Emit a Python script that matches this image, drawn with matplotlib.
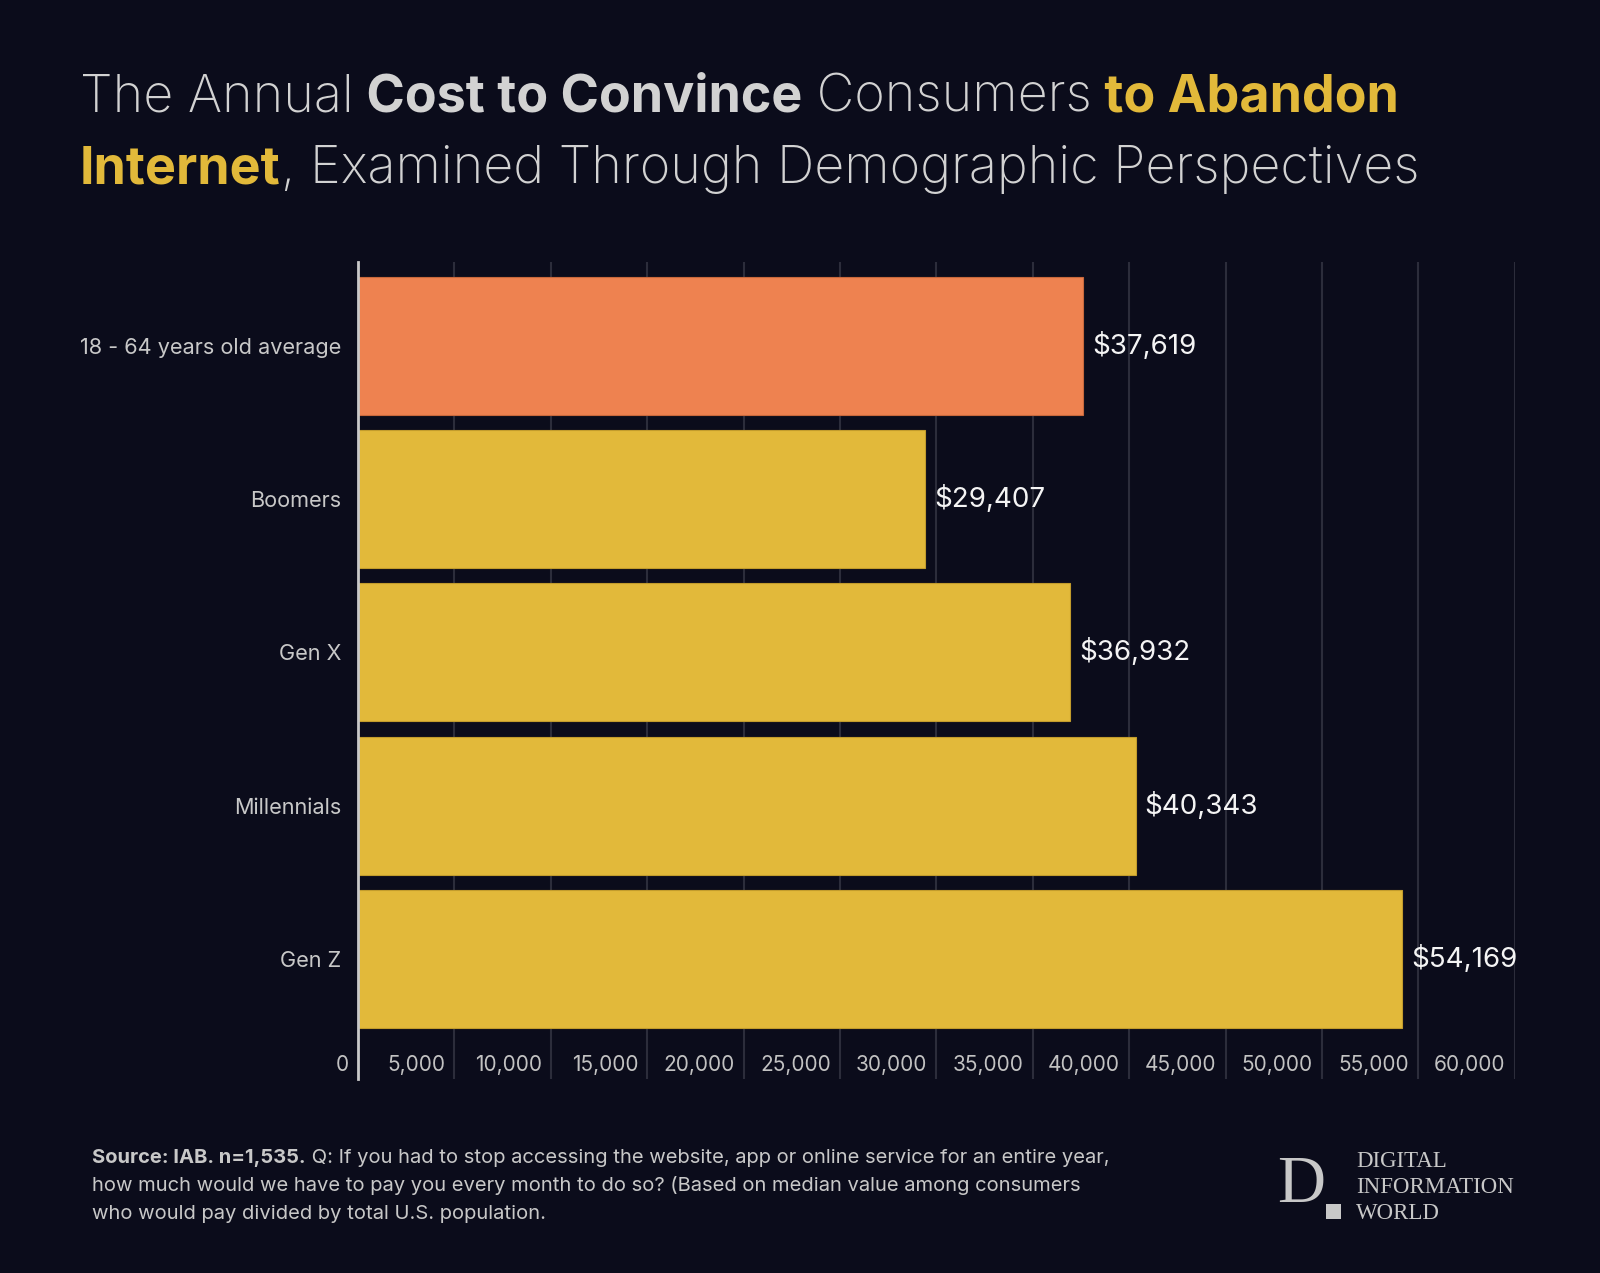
import matplotlib
matplotlib.use("Agg")
import matplotlib.pyplot as plt
import matplotlib.transforms as mtransforms
from matplotlib.patches import Rectangle

# ---------------- data ----------------
categories = ["18 - 64 years old average", "Boomers", "Gen X", "Millennials", "Gen Z"]
values = [37619, 29407, 36932, 40343, 54169]
value_labels = ["$37,619", "$29,407", "$36,932", "$40,343", "$54,169"]
bar_colors = ["#ee8250", "#e2b93a", "#e2b93a", "#e2b93a", "#e2b93a"]
edge_colors = ["#c8683c", "#c29c2c", "#c29c2c", "#c29c2c", "#c29c2c"]
xticks = [0, 5000, 10000, 15000, 20000, 25000, 30000, 35000, 40000, 45000, 50000, 55000, 60000]
xtick_labels = ["0", "5,000", "10,000", "15,000", "20,000", "25,000", "30,000",
                "35,000", "40,000", "45,000", "50,000", "55,000", "60,000"]

title_line1 = [("The Annual", "light", "#d2d2d2"), ("Cost to Convince", "bold", "#d2d2d2"),
               ("Consumers", "light", "#d2d2d2"), ("to Abandon", "bold", "#e2b93a")]
title_line2 = [("Internet", "bold", "#e2b93a"),
               (", Examined Through Demographic Perspectives", "light", "#d2d2d2")]
footer_line1 = [("Source: IAB. n=1,535.", "bold", "#c8c8c8"),
                ("Q: If you had to stop accessing the website, app or online service for an entire year,", "normal", "#c8c8c8")]
footer_line2 = "how much would we have to pay you every month to do so? (Based on median value among consumers"
footer_line3 = "who would pay divided by total U.S. population."
logo_lines = ["DIGITAL", "INFORMATION", "WORLD"]

# ---------------- figure ----------------
W, H, DPI = 1600, 1273, 100
BG = "#0b0c1b"
FONT = "Inter"
plt.rcParams["font.family"] = [FONT, "DejaVu Sans"]

fig = plt.figure(figsize=(W / DPI, H / DPI), dpi=DPI, facecolor=BG)
ax = fig.add_axes([358 / W, 1 - 1079 / H, (1514.7 - 358) / W, (1079 - 262) / H])
ax.set_facecolor(BG)

ypos = list(range(len(categories)))
ax.barh(ypos, values, height=0.9, color=bar_colors, edgecolor=edge_colors,
        linewidth=0.8, zorder=3)
ax.set_xlim(0, 60000)
ax.set_ylim(4.781, -0.5447)

ax.set_xticks(xticks)
ax.grid(axis="x", color="#2c2d3b", linewidth=1.5, zorder=0)
ax.tick_params(axis="x", length=0, labelbottom=False)
ax.set_yticks(ypos)
ax.set_yticklabels(categories, fontsize=15.6, color="#c8c8c8")
ax.tick_params(axis="y", length=0, pad=12)

for s in ["top", "right", "bottom"]:
    ax.spines[s].set_visible(False)
ax.spines["left"].set_color("#c9c9c9")
ax.spines["left"].set_linewidth(2.0)
ax.spines["left"].set_zorder(5)

# value labels
off_right = mtransforms.ScaledTranslation(9 / DPI, 0, fig.dpi_scale_trans)
for i, (v, lab) in enumerate(zip(values, value_labels)):
    ax.text(v, i, lab, transform=ax.transData + off_right, ha="left", va="center",
            fontsize=20, color="#f4f4f4", zorder=6)

# x tick labels (inside the axes, right-aligned to gridlines)
off_left = mtransforms.ScaledTranslation(-9 / DPI, 0, fig.dpi_scale_trans)
blend = mtransforms.blended_transform_factory(ax.transData, ax.transAxes)
for t, lab in zip(xticks, xtick_labels):
    ax.text(t, (1079 - 1065) / (1079 - 262), lab, transform=blend + off_left,
            ha="right", va="center", fontsize=15, color="#c2c2c2", zorder=6)

# ---------------- rich text helpers ----------------
fig.canvas.draw()
renderer = fig.canvas.get_renderer()


def adv_width(s, **kw):
    t1 = fig.text(0, 0, "|" + s + "|", **kw)
    t2 = fig.text(0, 0, "||", **kw)
    w = t1.get_window_extent(renderer).width - t2.get_window_extent(renderer).width
    t1.remove()
    t2.remove()
    return w


def runs_width(runs, fs, family, sep=" "):
    total = 0
    for k, (s, weight, color) in enumerate(runs):
        txt = s if k == 0 or s.startswith(",") else sep + s
        total += adv_width(txt, fontsize=fs, fontweight=weight, family=family)
    return total


def draw_runs(x0, ybase, runs, fs, family, sep=" "):
    x = x0
    for k, (s, weight, color) in enumerate(runs):
        txt = s if k == 0 or s.startswith(",") else sep + s
        fig.text(x / W, 1 - ybase / H, txt, fontsize=fs, fontweight=weight,
                 family=family, color=color, ha="left", va="baseline")
        x += adv_width(txt, fontsize=fs, fontweight=weight, family=family)


# title: fit first line to its measured width
fam = [FONT, "DejaVu Sans"]
base = 40
w1 = runs_width(title_line1, base, fam)
fs_title = base * 1318 / w1
draw_runs(80, 111, title_line1, fs_title, fam)
draw_runs(80, 183.3, title_line2, fs_title, fam)

# footer
base = 14
wf = runs_width(footer_line1, base, fam)
fs_foot = base * 1020 / wf
draw_runs(92, 1163, footer_line1, fs_foot, fam)
draw_runs(92, 1191, [(footer_line2, "normal", "#c8c8c8")], fs_foot, fam)
draw_runs(92, 1219, [(footer_line3, "normal", "#c8c8c8")], fs_foot, fam)

# logo
serif = ["Liberation Serif", "DejaVu Serif"]
fig.text(1277 / W, 1 - 1201.7 / H, "D", fontsize=48, family=serif, color="#c8c8c8",
         ha="left", va="baseline")
fig.add_artist(Rectangle((1326 / W, 1 - 1219 / H), 15 / W, 15 / H,
                         transform=fig.transFigure, color="#c8c8c8", lw=0))
for k, line in enumerate(logo_lines):
    fig.text(1356 / W, 1 - (1167 + 26.2 * k) / H, line, fontsize=16.5, family=serif,
             color="#c8c8c8", ha="left", va="baseline")

fig.savefig("out.png", dpi=DPI, facecolor=BG)
